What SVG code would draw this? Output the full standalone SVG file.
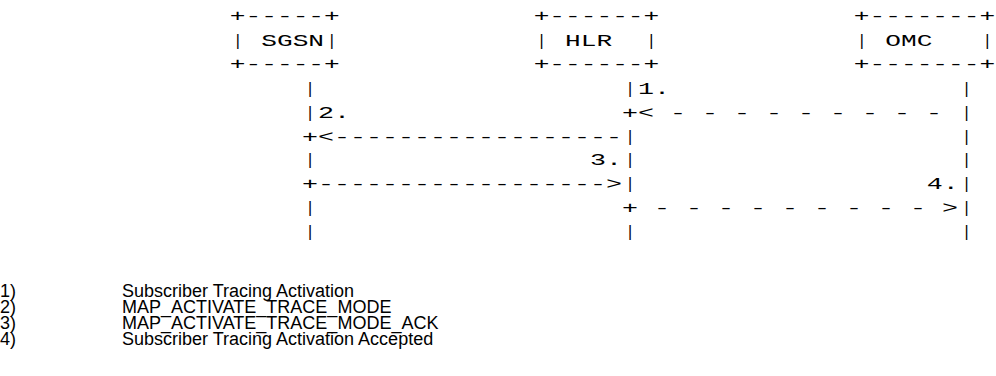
<svg xmlns="http://www.w3.org/2000/svg" width="996" height="376" viewBox="0 0 996 376">
<style>
.t{font-family:"Liberation Mono","DejaVu Sans Mono",monospace;font-size:16px;fill:#000;white-space:pre}
.v{text-anchor:middle}
.lg{font-family:"Liberation Sans",Arial,sans-serif;font-size:18px;fill:#000}
</style>
<rect width="996" height="376" fill="#fff"/>
<g id="sgsn">
<text class="t" x="229.85" y="20.5" textLength="109.9" lengthAdjust="spacingAndGlyphs">+-----+</text>
<text class="t v" x="237.7" y="45.9">|</text>
<text class="t" x="261.25" y="45.9" textLength="62.8" lengthAdjust="spacingAndGlyphs">SGSN</text>
<text class="t v" x="331.9" y="45.9">|</text>
<text class="t" x="229.85" y="68.5" textLength="109.9" lengthAdjust="spacingAndGlyphs">+-----+</text>
<text class="t v" x="310"><tspan x="310" y="93.7">|</tspan><tspan x="310" y="117.6">|</tspan><tspan x="310" y="165.4">|</tspan><tspan x="310" y="213.2">|</tspan><tspan x="310" y="237.1">|</tspan></text>
</g>
<g id="hlr">
<text class="t" x="533.65" y="20.5" textLength="125.6" lengthAdjust="spacingAndGlyphs">+------+</text>
<text class="t v" x="541.5" y="45.9">|</text>
<text class="t" x="565.05" y="45.9" textLength="47.1" lengthAdjust="spacingAndGlyphs">HLR</text>
<text class="t v" x="651.4" y="45.9">|</text>
<text class="t" x="533.65" y="68.5" textLength="125.6" lengthAdjust="spacingAndGlyphs">+------+</text>
<text class="t v" x="630"><tspan x="630" y="93.7">|</tspan><tspan x="630" y="141.5">|</tspan><tspan x="630" y="165.4">|</tspan><tspan x="630" y="189.3">|</tspan><tspan x="630" y="237.1">|</tspan></text>
</g>
<g id="omc">
<text class="t" x="853.85" y="20.5" textLength="141.3" lengthAdjust="spacingAndGlyphs">+-------+</text>
<text class="t v" x="861.7" y="45.9">|</text>
<text class="t" x="885.25" y="45.9" textLength="47.1" lengthAdjust="spacingAndGlyphs">OMC</text>
<text class="t v" x="987.3" y="45.9">|</text>
<text class="t" x="853.85" y="68.5" textLength="141.3" lengthAdjust="spacingAndGlyphs">+-------+</text>
<text class="t v" x="966.5"><tspan x="966.5" y="93.7">|</tspan><tspan x="966.5" y="117.6">|</tspan><tspan x="966.5" y="141.5">|</tspan><tspan x="966.5" y="165.4">|</tspan><tspan x="966.5" y="189.3">|</tspan><tspan x="966.5" y="213.2">|</tspan><tspan x="966.5" y="237.1">|</tspan></text>
</g>
<g id="connectors">
<text class="t" x="638" y="93.7" textLength="32" lengthAdjust="spacingAndGlyphs">1.</text>
<text class="t" x="622" y="117.6" textLength="320" lengthAdjust="spacingAndGlyphs">+&lt; - - - - - - - - -</text>
<text class="t" x="318" y="117.6" textLength="32" lengthAdjust="spacingAndGlyphs">2.</text>
<text class="t" x="302" y="141.5" textLength="320" lengthAdjust="spacingAndGlyphs">+&lt;------------------</text>
<text class="t" x="590" y="165.4" textLength="32" lengthAdjust="spacingAndGlyphs">3.</text>
<text class="t" x="302" y="189.3" textLength="320" lengthAdjust="spacingAndGlyphs">+------------------&gt;</text>
<text class="t" x="926.7" y="189.3" textLength="32" lengthAdjust="spacingAndGlyphs">4.</text>
<text class="t" x="622" y="213.2" textLength="336" lengthAdjust="spacingAndGlyphs">+ - - - - - - - - - &gt;</text>
</g>
<g id="legend">
<text class="lg" x="0" y="297">1)</text>
<text class="lg" x="122" y="297">Subscriber Tracing Activation</text>
<text class="lg" x="0" y="313">2)</text>
<text class="lg" x="122" y="313">MAP_ACTIVATE_TRACE_MODE</text>
<text class="lg" x="0" y="329">3)</text>
<text class="lg" x="122" y="329">MAP_ACTIVATE_TRACE_MODE_ACK</text>
<text class="lg" x="0" y="345">4)</text>
<text class="lg" x="122" y="345">Subscriber Tracing Activation Accepted</text>
</g>
</svg>
